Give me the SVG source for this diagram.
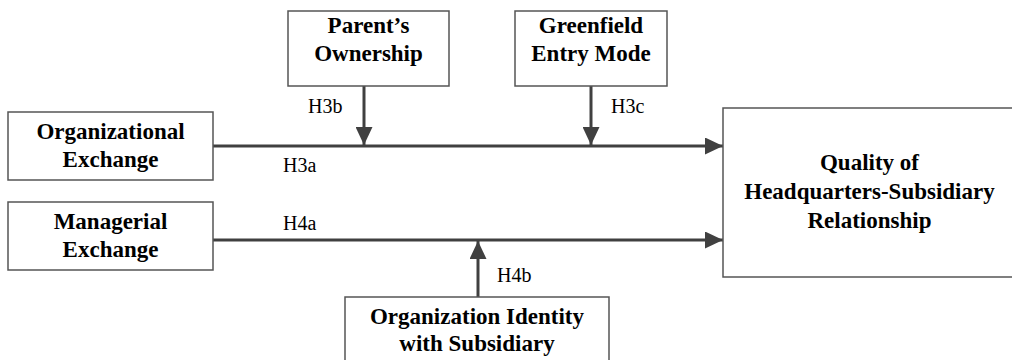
<svg xmlns="http://www.w3.org/2000/svg" width="1012" height="360" viewBox="0 0 1012 360">
<style>
.box{fill:#fff;stroke:#555;stroke-width:1.5}
.t{font-family:"Liberation Serif","Times New Roman",serif;font-weight:bold;font-size:23px;fill:#000;text-anchor:middle}
.l{font-family:"Liberation Serif","Times New Roman",serif;font-size:20px;fill:#000}
.c{stroke:#404040;stroke-width:3;fill:none}
</style>
<defs>
<marker id="ah" viewBox="0 0 18 17" refX="18" refY="8.5" markerWidth="18" markerHeight="17" markerUnits="userSpaceOnUse" orient="auto">
<path d="M0,0 L18,8.5 L0,17 Z" fill="#404040"/>
</marker>
</defs>
<rect width="1012" height="360" fill="#fff"/>
<g id="connectors">
<line class="c" x1="213" y1="146" x2="723" y2="146" marker-end="url(#ah)"/>
<line class="c" x1="213" y1="240" x2="723" y2="240" marker-end="url(#ah)"/>
<line class="c" x1="364" y1="86" x2="364" y2="145" marker-end="url(#ah)"/>
<line class="c" x1="591" y1="86" x2="591" y2="145" marker-end="url(#ah)"/>
<line class="c" x1="478" y1="297" x2="478" y2="241" marker-end="url(#ah)"/>
<text class="l" x="283" y="172">H3a</text>
<text class="l" x="308" y="113">H3b</text>
<text class="l" x="611" y="113">H3c</text>
<text class="l" x="283" y="230">H4a</text>
<text class="l" x="497" y="282">H4b</text>
</g>
<g id="parent-ownership">
<rect class="box" x="288" y="11" width="161" height="75"/>
<text class="t" x="368.5" y="33">Parent’s</text>
<text class="t" x="368.5" y="61">Ownership</text>
</g>
<g id="greenfield-entry-mode">
<rect class="box" x="515" y="11" width="152" height="75"/>
<text class="t" x="591" y="33">Greenfield</text>
<text class="t" x="591" y="61">Entry Mode</text>
</g>
<g id="organizational-exchange">
<rect class="box" x="8" y="112" width="205" height="68"/>
<text class="t" x="110.5" y="139">Organizational</text>
<text class="t" x="110.5" y="167">Exchange</text>
</g>
<g id="managerial-exchange">
<rect class="box" x="8" y="202" width="205" height="68"/>
<text class="t" x="110.5" y="229">Managerial</text>
<text class="t" x="110.5" y="257">Exchange</text>
</g>
<g id="quality-relationship">
<rect class="box" x="723" y="108" width="300" height="169"/>
<text class="t" x="869.5" y="170">Quality of</text>
<text class="t" x="869.5" y="199">Headquarters-Subsidiary</text>
<text class="t" x="869.5" y="228">Relationship</text>
</g>
<g id="organization-identity">
<rect class="box" x="345" y="297" width="264" height="70"/>
<text class="t" x="477" y="324">Organization Identity</text>
<text class="t" x="477" y="351">with Subsidiary</text>
</g>
</svg>
